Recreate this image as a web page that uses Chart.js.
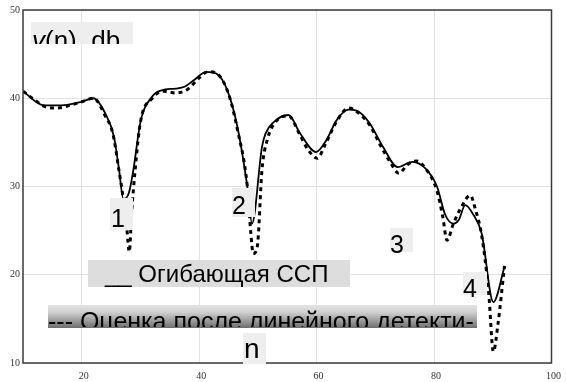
<!DOCTYPE html>
<html>
<head>
<meta charset="utf-8">
<script src="https://cdn.jsdelivr.net/npm/chart.js@4.4.0/dist/chart.umd.min.js"></script>
<style>
  html, body { margin: 0; padding: 0; background: #fff; }
</style>
</head>
<body>
<canvas id="chart" width="566" height="382"></canvas>
<script>
// envelope (solid line)
const envX = [10, 13.5, 16.5, 20, 22, 24, 25.5, 26.3, 27.1, 28, 28.8, 30, 32, 33.6, 36, 37.5,
    39.2, 41.2, 42.9, 44.8, 46.5, 48.2, 49.0, 50.7, 51.3, 52.7, 55.2, 57.2, 59.9, 61.7, 63.4, 65.4,
    66.8, 69, 71.3, 73.8, 76.3, 78.6, 80.5, 81.9, 83.3, 84.2, 85.3, 86.7, 88.1, 90.1, 92];
const envY = [40.8, 39.2, 39.2, 39.6, 40.0, 38.3, 35.6, 32.2, 28.6, 29.2, 31.9, 37.3, 40.2, 40.9, 41.1, 41.3,
    42.1, 43.0, 42.8, 40.9, 36.8, 30.0, 25.8, 34.5, 36.0, 37.3, 38.1, 36.0, 33.9, 35.3, 37.5, 38.7,
    38.6, 37.2, 34.5, 32.2, 32.8, 32.0, 30.0, 26.8, 25.8, 26.2, 27.9, 26.8, 24.7, 16.9, 20.9];

// estimate after linear detector (dotted line)
const estX = [10, 12, 14, 16, 18, 20, 22, 24, 25.3, 26.3, 27.1, 27.7, 28.1, 28.5, 29.1, 30,
    32, 34, 36, 38, 40, 41.5, 43, 45, 46.5, 48.2, 48.8, 49.2, 49.9, 50.7, 51.6, 53,
    55.2, 57.2, 58.5, 60.1, 61.5, 63.5, 65.5, 67, 69, 71, 72.5, 74, 75.5, 77, 78.6, 80.5,
    81.5, 82.2, 83.3, 84.5, 86.2, 87, 88.1, 89.3, 90.1, 90.9, 92];
const estY = [40.8, 39.8, 39.0, 38.9, 39.2, 39.6, 40.0, 38.0, 36.0, 32.0, 28.5, 25.1, 22.6, 27.0, 31.9, 37.3,
    40.0, 40.8, 40.6, 41.0, 42.3, 43.0, 42.8, 40.5, 36.5, 30.0, 24.7, 22.4, 23.2, 31.9, 35.3, 37.3,
    38.0, 35.8, 34.2, 33.2, 34.8, 37.5, 38.9, 38.4, 37.0, 34.5, 32.8, 31.5, 32.5, 32.9, 32.0, 29.5,
    26.5, 23.9, 25.8, 27.5, 29.0, 27.5, 24.5, 18.0, 11.3, 14.5, 21.0];

const xTicks = [20, 40, 60, 80, 100];
const yTicks = [10, 20, 30, 40, 50];

const yTitle = ['y', '(n), db'];
const xTitle = 'n';
const solidLabel = '__ Огибающая ССП';
const dottedLabel = '--- Оценка после линейного детекти-';
const peakLabels = ['1', '2', '3', '4'];

function points(xs, ys) {
    return xs.map(function (x, i) { return { x: x, y: ys[i] }; });
}

const SANS = "'Liberation Sans', Arial, sans-serif";

// grey text boxes pasted over the plot
function drawBox(ctx, x, y, w, h, fill) {
    ctx.save();
    if (fill === 'grad') {
        const g = ctx.createLinearGradient(0, y, 0, y + h);
        g.addColorStop(0, '#e4e4e4');
        g.addColorStop(0.3, '#d2d2d2');
        g.addColorStop(1, '#6e6e6e');
        ctx.fillStyle = g;
    } else {
        ctx.fillStyle = fill;
    }
    ctx.fillRect(x, y, w, h);
    ctx.restore();
}

function clippedText(ctx, parts, x, baseline, box) {
    ctx.save();
    ctx.beginPath();
    ctx.rect(box[0], box[1], box[2], box[3]);
    ctx.clip();
    ctx.fillStyle = '#000';
    ctx.textBaseline = 'alphabetic';
    ctx.textAlign = 'left';
    let cx = x;
    parts.forEach(function (p) {
        ctx.font = p.font;
        ctx.fillText(p.text, cx, baseline);
        cx += ctx.measureText(p.text).width;
    });
    ctx.restore();
}

const framePlugin = {
    id: 'frame',
    afterDatasetsDraw(chart) {
        const a = chart.chartArea;
        const ctx = chart.ctx;
        ctx.save();
        ctx.strokeStyle = '#3a3a3a';
        ctx.lineWidth = 1.5;
        ctx.strokeRect(a.left, a.top, a.right - a.left, a.bottom - a.top);
        ctx.restore();
    },
    afterDraw(chart) {
        const ctx = chart.ctx;
        const light = '#eeeeee';

        // y(n), db
        let b = [31, 22, 102, 22];
        drawBox(ctx, b[0], b[1], b[2], b[3], light);
        clippedText(ctx, [
            { text: yTitle[0], font: 'italic 26px ' + SANS },
            { text: yTitle[1], font: '26px ' + SANS }
        ], 32, 49, b);

        // peak numbers
        const peaks = [[110, 198, 23, 32, 111, 227], [232, 188, 23, 29, 232, 214],
                       [390, 228, 23, 24, 390, 253], [463, 272, 24, 23, 463, 297]];
        peaks.forEach(function (p, i) {
            const bb = [p[0], p[1], p[2], p[3]];
            drawBox(ctx, bb[0], bb[1], bb[2], bb[3], light);
            clippedText(ctx, [{ text: peakLabels[i], font: '25px ' + SANS }], p[4], p[5],
                [bb[0], bb[1], bb[2] + 10, bb[3] + 10]);
        });

        // legend-like boxes
        b = [88, 260, 262, 27];
        drawBox(ctx, b[0], b[1], b[2], b[3], '#dddddd');
        clippedText(ctx, [{ text: solidLabel, font: '24px ' + SANS }], 105, 282, b);

        b = [48, 305, 429, 23];
        drawBox(ctx, b[0], b[1], b[2], b[3], 'grad');
        clippedText(ctx, [{ text: dottedLabel, font: '25px ' + SANS }], 48, 330, [48, 305, 429, 22]);

        // n
        b = [243, 333, 23, 31];
        drawBox(ctx, b[0], b[1], b[2], b[3], light);
        clippedText(ctx, [{ text: xTitle, font: '28px ' + SANS }], 244, 358, b);
    }
};

const ctx = document.getElementById('chart').getContext('2d');
new Chart(ctx, {
    type: 'line',
    data: {
        datasets: [
            {
                label: solidLabel,
                data: points(envX, envY),
                borderColor: '#000',
                borderWidth: 1.8,
                pointRadius: 0,
                cubicInterpolationMode: 'monotone',
                fill: false
            },
            {
                label: dottedLabel,
                data: points(estX, estY),
                borderColor: '#000',
                borderWidth: 3,
                borderDash: [4, 4],
                pointRadius: 0,
                cubicInterpolationMode: 'monotone',
                fill: false
            }
        ]
    },
    options: {
        responsive: false,
        animation: false,
        layout: { padding: { top: 10, right: 8, left: 0, bottom: 0 } },
        plugins: {
            legend: { display: false },
            tooltip: { enabled: false }
        },
        scales: {
            x: {
                type: 'linear',
                min: 10,
                max: 100,
                afterBuildTicks: function (scale) {
                    scale.ticks = xTicks.map(function (v) { return { value: v }; });
                },
                afterFit: function (scale) { scale.height = 19; },
                grid: { color: '#e2e2e2', lineWidth: 1, drawTicks: false },
                border: { display: false },
                ticks: {
                    font: { family: "'Liberation Serif', 'Times New Roman', serif", size: 10 },
                    color: '#333',
                    padding: 7,
                    labelOffset: 2,
                    maxRotation: 0,
                    autoSkip: false
                }
            },
            y: {
                min: 10,
                max: 50,
                afterBuildTicks: function (scale) {
                    scale.ticks = yTicks.map(function (v) { return { value: v }; });
                },
                afterFit: function (scale) { scale.width = 23; },
                grid: { color: '#e2e2e2', lineWidth: 1, drawTicks: false },
                border: { display: false },
                ticks: {
                    font: { family: "'Liberation Serif', 'Times New Roman', serif", size: 10 },
                    color: '#333',
                    padding: 3
                }
            }
        }
    },
    plugins: [framePlugin]
});
</script>
</body>
</html>
